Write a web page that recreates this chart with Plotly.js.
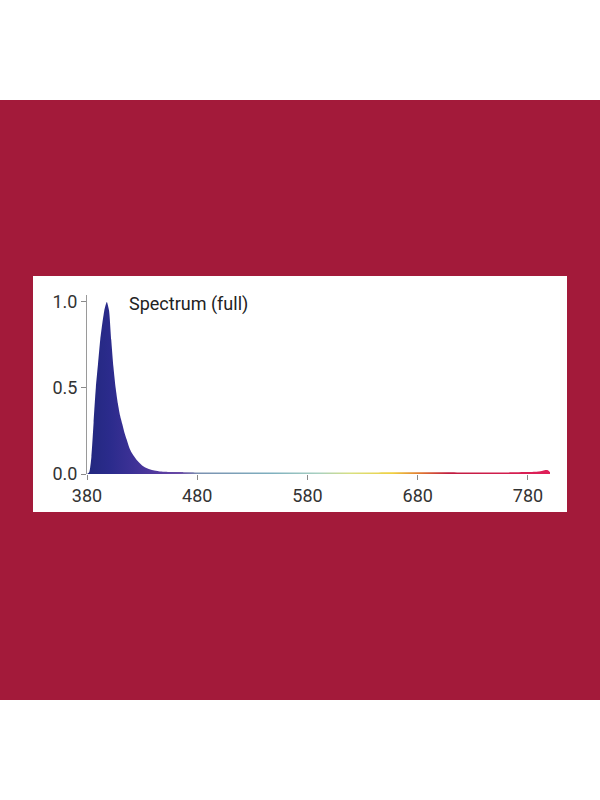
<!DOCTYPE html>
<html>
<head>
<meta charset="utf-8">
<script src="https://cdn.plot.ly/plotly-3.0.1.min.js"></script>
<style>html,body{margin:0;padding:0;background:#fff;}#chart{width:600px;height:800px;}</style>
</head>
<body>
<div id="chart"></div>
<script>
// Wavelength (nm) and relative intensity
const wavelength = [380,382,384,386,388,390,392,394,396,398,400,402,404,406,408,410,412,414,416,418,420,423,426,430,435,440,445,450,460,470,480,500,520,540,560,580,600,620,640,660,680,700,720,740,760,780,790,795,798,800];
const intensity  = [0.0,0.01,0.1,0.3,0.5,0.64,0.78,0.88,0.96,1.0,0.95,0.78,0.62,0.5,0.41,0.34,0.29,0.24,0.2,0.16,0.13,0.1,0.075,0.05,0.032,0.022,0.016,0.013,0.011,0.01,0.009,0.009,0.009,0.009,0.009,0.009,0.009,0.009,0.009,0.01,0.01,0.01,0.009,0.008,0.009,0.011,0.014,0.022,0.022,0.01];
const xTicks = [380,480,580,680,780];
const yTicks = [0,0.5,1.0];
const yTickText = ['0.0','0.5','1.0'];
const chartLabel = 'Spectrum (full)';

// spectral colours across the 380–800 nm span
const spectrumScale = [
  [0.0,'#22287e'],[0.05,'#2b2b8c'],[0.1,'#3d3196'],[0.16,'#583ca0'],
  [0.2,'#6a4aa6'],[0.24,'#7a90b0'],[0.4,'#7fb0bf'],[0.5,'#a8d0c0'],
  [0.57,'#d8e080'],[0.66,'#f0d040'],[0.72,'#e07830'],[0.78,'#c01c40'],[1.0,'#e0205a']
];

const plotL = 87, plotR = 550, plotT = 295, plotB = 474;
const pw = plotR - plotL, ph = plotB - plotT;
const px = v => (v - plotL) / pw;
const py = v => (plotB - v) / ph;

const trace = {
  x: wavelength, y: intensity, type: 'scatter', mode: 'lines',
  line: {width: 0, color: '#3a2f8f', shape: 'spline', smoothing: 0.6},
  fill: 'tozeroy',
  fillgradient: {type: 'horizontal', colorscale: spectrumScale},
  hoverinfo: 'skip'
};

const fontFam = 'Roboto, "Noto Sans", sans-serif';
const tickFont = {family: fontFam, size: 18, color: '#333333'};

const layout = {
  width: 600, height: 800,
  margin: {l: plotL, r: 600 - plotR, t: plotT, b: 800 - plotB, pad: 0},
  paper_bgcolor: '#ffffff', plot_bgcolor: 'rgba(0,0,0,0)',
  showlegend: false,
  xaxis: {
    range: [380, 800], tickvals: xTicks, ticktext: xTicks.map(String),
    showgrid: false, zeroline: false, showline: false,
    ticks: 'outside', ticklen: 5, tickcolor: '#8a8a8a', tickwidth: 1,
    tickfont: tickFont, fixedrange: true
  },
  yaxis: {
    range: [0, 1.04], tickvals: yTicks, ticktext: yTickText,
    showgrid: false, zeroline: false, showline: true, linecolor: '#9a9a9a', linewidth: 1,
    ticks: 'outside', ticklen: 5, tickcolor: '#8a8a8a', tickwidth: 1,
    tickfont: tickFont, fixedrange: true
  },
  shapes: [
    {type: 'rect', xref: 'paper', yref: 'paper', layer: 'below',
     x0: px(-5), x1: px(605), y0: py(700), y1: py(100),
     fillcolor: '#a31a3a', line: {width: 0}},
    {type: 'rect', xref: 'paper', yref: 'paper', layer: 'below',
     x0: px(33), x1: px(567), y0: py(512), y1: py(276),
     fillcolor: '#ffffff', line: {width: 0}}
  ],
  annotations: [
    {text: chartLabel, x: 416, y: 0.99, xref: 'x', yref: 'y',
     xanchor: 'left', yanchor: 'middle', showarrow: false,
     font: {family: fontFam, size: 18, color: '#222222'}}
  ]
};

Plotly.newPlot('chart', [trace], layout, {displayModeBar: false, staticPlot: true});
</script>
</body>
</html>
